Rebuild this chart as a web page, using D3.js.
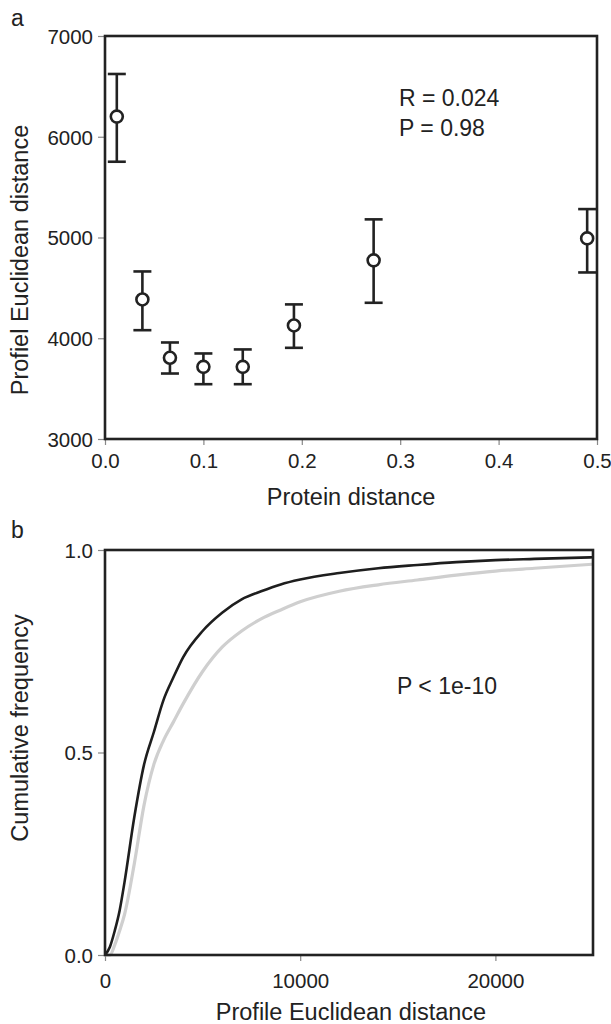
<!DOCTYPE html>
<html>
<head>
<meta charset="utf-8">
<script src="https://cdn.jsdelivr.net/npm/d3@7"></script>
<style>
  body { margin: 0; background: #fff; }
  svg text { font-family: "Liberation Sans", Arial, sans-serif; fill: #222; }
  .tick line { stroke: #888; stroke-width: 1.2; }
  .tick text { font-size: 20.5px; }
</style>
</head>
<body>
<svg width="611" height="1024"></svg>
<script>
// panel a : protein distance vs profile distance (mean +/- error)
var protDist  = [0.012, 0.038, 0.066, 0.100, 0.140, 0.192, 0.273, 0.490];
var profMean  = [6200, 4385, 3806, 3716, 3716, 4127, 4773, 4991];
var profHigh  = [6623, 4663, 3958, 3849, 3889, 4336, 5180, 5282];
var profLow   = [5752, 4080, 3650, 3544, 3544, 3905, 4352, 4653];
var aXTicks = [0, 0.1, 0.2, 0.3, 0.4, 0.5];
var aYTicks = [3000, 4000, 5000, 6000, 7000];

// panel b : cumulative frequency curves
var cdfX    = [0, 250, 500, 750, 1000, 1500, 2000, 2500, 3000, 3500, 4000, 5000, 6000, 7000, 8000, 9000, 10000, 12000, 14000, 16000, 18000, 20000, 22000, 25000];
var cdfDark = [0, 0.02, 0.06, 0.11, 0.18, 0.34, 0.47, 0.55, 0.63, 0.685, 0.735, 0.80, 0.845, 0.878, 0.898, 0.915, 0.927, 0.943, 0.955, 0.963, 0.970, 0.975, 0.978, 0.982];
var cdfGray = [0, 0, 0.025, 0.06, 0.10, 0.225, 0.37, 0.47, 0.53, 0.575, 0.62, 0.70, 0.76, 0.80, 0.83, 0.852, 0.872, 0.898, 0.914, 0.926, 0.938, 0.948, 0.955, 0.965];
var bXTicks = [0, 10000, 20000];
var bYTicks = [0, 0.5, 1.0];

var svg = d3.select("svg");

// ---------- panel a ----------
var xa = d3.scaleLinear().domain([0, 0.5]).range([105, 597]);
var ya = d3.scaleLinear().domain([3000, 7000]).range([439, 36]);

var ga = svg.append("g");

ga.append("g")
  .attr("transform", "translate(0,439)")
  .call(d3.axisBottom(xa).tickValues(aXTicks).tickFormat(d3.format(".1f")).tickSize(6).tickPadding(8))
  .call(function(g){ g.select(".domain").remove(); });

ga.append("g")
  .attr("transform", "translate(105,0)")
  .call(d3.axisLeft(ya).tickValues(aYTicks).tickFormat(d3.format("d")).tickSize(7).tickPadding(5))
  .call(function(g){ g.select(".domain").remove(); })
  .selectAll("text").attr("dy", "0.36em");

ga.append("rect")
  .attr("x", xa(0)).attr("y", ya(7000))
  .attr("width", xa(0.5) - xa(0)).attr("height", ya(3000) - ya(7000))
  .attr("fill", "none").attr("stroke", "#222").attr("stroke-width", 2.6);

var pts = ga.selectAll(".pt").data(protDist).enter().append("g").attr("class", "pt");
pts.append("line")
  .attr("x1", function(d){ return xa(d); }).attr("x2", function(d){ return xa(d); })
  .attr("y1", function(d, i){ return ya(profHigh[i]); })
  .attr("y2", function(d, i){ return ya(profLow[i]); })
  .attr("stroke", "#222").attr("stroke-width", 2.6);
pts.append("line")
  .attr("x1", function(d){ return xa(d) - 9; }).attr("x2", function(d){ return xa(d) + 9; })
  .attr("y1", function(d, i){ return ya(profHigh[i]); })
  .attr("y2", function(d, i){ return ya(profHigh[i]); })
  .attr("stroke", "#222").attr("stroke-width", 2.6);
pts.append("line")
  .attr("x1", function(d){ return xa(d) - 9; }).attr("x2", function(d){ return xa(d) + 9; })
  .attr("y1", function(d, i){ return ya(profLow[i]); })
  .attr("y2", function(d, i){ return ya(profLow[i]); })
  .attr("stroke", "#222").attr("stroke-width", 2.6);
pts.append("circle")
  .attr("cx", function(d){ return xa(d); })
  .attr("cy", function(d, i){ return ya(profMean[i]); })
  .attr("r", 6)
  .attr("fill", "#fff").attr("stroke", "#222").attr("stroke-width", 2.6);

ga.append("text").attr("x", 11).attr("y", 26).style("font-size", "23px").text("a");
ga.append("text").attr("x", 351).attr("y", 505).attr("text-anchor", "middle")
  .style("font-size", "23.5px").text("Protein distance");
ga.append("text").attr("transform", "translate(28,260) rotate(-90)").attr("text-anchor", "middle")
  .style("font-size", "23.5px").text("Profiel Euclidean distance");
ga.append("text").attr("x", 399).attr("y", 106).style("font-size", "23px").text("R = 0.024");
ga.append("text").attr("x", 399).attr("y", 136).style("font-size", "23px").text("P = 0.98");

// ---------- panel b ----------
var xb = d3.scaleLinear().domain([0, 25000]).range([105, 593]);
var yb = d3.scaleLinear().domain([0, 1]).range([955, 550]);

var gb = svg.append("g");

gb.append("g")
  .attr("transform", "translate(0,955)")
  .call(d3.axisBottom(xb).tickValues(bXTicks).tickFormat(d3.format("d")).tickSize(6).tickPadding(12))
  .call(function(g){ g.select(".domain").remove(); });

gb.append("g")
  .attr("transform", "translate(105,0)")
  .call(d3.axisLeft(yb).tickValues(bYTicks).tickFormat(d3.format(".1f")).tickSize(7).tickPadding(5))
  .call(function(g){ g.select(".domain").remove(); })
  .selectAll("text").attr("dy", "0.36em");

var line = d3.line()
  .x(function(d){ return xb(d[0]); })
  .y(function(d){ return yb(d[1]); })
  .curve(d3.curveMonotoneX);

gb.append("path")
  .datum(d3.zip(cdfX, cdfGray))
  .attr("d", line)
  .attr("fill", "none").attr("stroke", "#cfcfcf").attr("stroke-width", 3.2);

gb.append("path")
  .datum(d3.zip(cdfX, cdfDark))
  .attr("d", line)
  .attr("fill", "none").attr("stroke", "#1e1e1e").attr("stroke-width", 2.6);

gb.append("rect")
  .attr("x", xb(0)).attr("y", yb(1))
  .attr("width", xb(25000) - xb(0)).attr("height", yb(0) - yb(1))
  .attr("fill", "none").attr("stroke", "#222").attr("stroke-width", 2.6);

gb.append("text").attr("x", 11).attr("y", 538).style("font-size", "23px").text("b");
gb.append("text").attr("x", 351).attr("y", 1020).attr("text-anchor", "middle")
  .style("font-size", "23.5px").text("Profile Euclidean distance");
gb.append("text").attr("transform", "translate(28,728) rotate(-90)").attr("text-anchor", "middle")
  .style("font-size", "23.5px").text("Cumulative frequency");
gb.append("text").attr("x", 397).attr("y", 694).style("font-size", "23px").text("P < 1e-10");
</script>
</body>
</html>
